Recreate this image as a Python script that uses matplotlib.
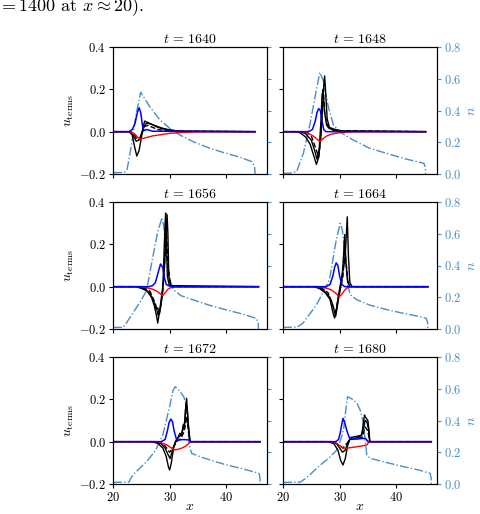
import matplotlib
matplotlib.use("Agg")
import matplotlib.pyplot as plt

plt.rcParams["font.family"] = "serif"
plt.rcParams["font.serif"] = ["cmr10", "DejaVu Serif"]
plt.rcParams["mathtext.fontset"] = "cm"
plt.rcParams["axes.formatter.use_mathtext"] = True

N_COLOR = "#4a8dc8"

times = [1640, 1648, 1656, 1664, 1672, 1680]

# ---- t = 1640 ----
xn_1640 = [20, 22.0, 22.5, 23.2, 24.1, 24.9, 25.5, 26.5, 28.3, 30.0, 31.8, 34.2, 37.1, 40.0, 42.5, 44.5, 45.0, 45.1]
n_1640 = [0.008, 0.01, 0.03, 0.17, 0.38, 0.515, 0.48, 0.424, 0.34, 0.288, 0.246, 0.203, 0.162, 0.13, 0.105, 0.078, 0.05, 0.0]
xb_1640 = [20, 22.8, 23.4, 23.9, 24.3, 24.6, 24.9, 25.2, 25.5, 26.0, 27.0, 45.1]
blue_1640 = [0, 0.0, 0.01, 0.04, 0.09, 0.113, 0.09, 0.03, 0.005, 0.01, 0.002, 0]
xr_1640 = [20, 23.0, 23.8, 24.4, 24.8, 25.3, 26.0, 27.0, 28.5, 30.0, 32.0, 35.0, 45.1]
red_1640 = [0, 0, -0.01, -0.028, -0.036, -0.032, -0.027, -0.02, -0.014, -0.008, -0.004, -0.001, 0]
xa_1640 = [20, 22.8, 23.4, 23.8, 24.2, 24.6, 25.0, 25.3, 25.6, 26.0, 26.8, 27.8, 29.0, 31.0, 33.0, 45.1]
ka_1640 = [0, 0, -0.015, -0.07, -0.115, -0.09, -0.03, 0.02, 0.05, 0.045, 0.035, 0.022, 0.012, 0.004, 0.001, 0]
xk_1640 = [20, 23.0, 23.6, 24.1, 24.6, 25.0, 25.4, 25.9, 26.5, 27.5, 28.5, 30.0, 32.0, 45.1]
kb_1640 = [0, 0, -0.02, -0.045, -0.04, -0.01, 0.02, 0.04, 0.038, 0.028, 0.018, 0.008, 0.002, 0]
xd_1640 = [20, 23.2, 23.8, 24.3, 24.8, 25.2, 25.6, 26.2, 27.0, 28.0, 30.0, 45.1]
kd_1640 = [0, 0, -0.015, -0.04, -0.035, -0.005, 0.025, 0.03, 0.02, 0.01, 0.003, 0]

# ---- t = 1648 ----
xn_1648 = [20, 21.2, 22.4, 23.6, 24.8, 25.9, 26.5, 27.1, 28.0, 28.9, 30.0, 32.4, 35.3, 38.3, 41.2, 44.9, 45.15, 45.2]
n_1648 = [0.005, 0.005, 0.015, 0.13, 0.32, 0.53, 0.64, 0.59, 0.424, 0.31, 0.266, 0.214, 0.162, 0.13, 0.099, 0.067, 0.04, 0.0]
xb_1648 = [20, 24.5, 25.2, 25.7, 26.0, 26.3, 26.6, 26.9, 27.2, 27.6, 45.2]
blue_1648 = [0, 0, 0.01, 0.05, 0.09, 0.109, 0.1, 0.05, 0.01, 0.0, 0]
xr_1648 = [20, 23.5, 24.5, 25.3, 26.0, 26.5, 27.0, 27.6, 28.5, 30.0, 32.0, 45.2]
red_1648 = [0, 0, -0.008, -0.02, -0.035, -0.047, -0.035, -0.022, -0.012, -0.005, -0.001, 0]
xa_1648 = [20, 22.0, 23.0, 24.0, 24.8, 25.5, 25.9, 26.3, 26.7, 27.0, 27.2, 27.35, 27.5, 27.8, 28.2, 29.0, 30.0, 31.0, 45.2]
ka_1648 = [0, 0, -0.005, -0.025, -0.06, -0.12, -0.155, -0.12, -0.02, 0.12, 0.22, 0.263, 0.2, 0.06, 0.02, 0.012, 0.006, 0.002, 0]
xk_1648 = [20, 23.0, 24.0, 25.0, 25.6, 26.0, 26.4, 26.7, 26.9, 27.1, 27.3, 27.7, 28.2, 29.0, 30.0, 45.2]
kb_1648 = [0, 0, -0.01, -0.04, -0.09, -0.13, -0.08, 0.05, 0.176, 0.19, 0.1, 0.03, 0.015, 0.008, 0.003, 0]
xd_1648 = [20, 24.0, 25.0, 25.8, 26.3, 26.6, 26.9, 27.1, 27.4, 28.0, 29.0, 45.2]
kd_1648 = [0, 0, -0.02, -0.08, -0.12, -0.05, 0.1, 0.2, 0.08, 0.02, 0.005, 0]

# ---- t = 1656 ----
xn_1656 = [20, 21.8, 22.4, 23.5, 24.8, 25.9, 27.1, 27.9, 28.65, 29.0, 29.4, 30.0, 30.6, 32.0, 34.2, 37.0, 40.05, 43.0, 45.3, 45.65, 45.7]
n_1656 = [0.01, 0.01, 0.04, 0.1, 0.17, 0.24, 0.466, 0.613, 0.70, 0.64, 0.466, 0.32, 0.25, 0.21, 0.183, 0.15, 0.12, 0.093, 0.067, 0.04, 0.0]
xb_1656 = [20, 26.3, 27.0, 27.5, 28.0, 28.4, 28.8, 29.1, 29.4, 29.8, 30.3, 45.7]
blue_1656 = [0, 0, 0.005, 0.02, 0.07, 0.107, 0.09, 0.04, 0.01, 0.005, 0.0, 0]
xr_1656 = [20, 25.0, 26.0, 27.0, 27.8, 28.4, 28.8, 29.2, 29.7, 30.3, 31.0, 45.7]
red_1656 = [0, 0, -0.005, -0.012, -0.022, -0.035, -0.041, -0.03, -0.012, -0.004, 0.0, 0]
xa_1656 = [20, 24.0, 25.0, 26.0, 26.8, 27.3, 27.7, 27.9, 28.2, 28.5, 28.8, 29.0, 29.2, 29.3, 29.45, 29.6, 29.9, 30.3, 45.7]
ka_1656 = [0, 0, -0.008, -0.02, -0.05, -0.09, -0.14, -0.172, -0.12, -0.06, 0.0, 0.15, 0.3, 0.348, 0.2, 0.05, 0.01, 0.0, 0]
xk_1656 = [20, 24.5, 25.5, 26.5, 27.2, 27.6, 27.9, 28.2, 28.6, 29.0, 29.3, 29.55, 29.7, 29.85, 30.2, 45.7]
kb_1656 = [0, 0, -0.01, -0.03, -0.07, -0.11, -0.10, -0.13, -0.06, 0.05, 0.2, 0.34, 0.25, 0.05, 0.005, 0]
xd_1656 = [20, 25.0, 26.5, 27.5, 28.0, 28.4, 28.8, 29.1, 29.4, 29.7, 30.2, 45.7]
kd_1656 = [0, 0, -0.02, -0.08, -0.14, -0.1, -0.02, 0.1, 0.3, 0.1, 0.0, 0]

# ---- t = 1664 ----
xn_1664 = [20, 22.5, 23.5, 25.9, 28.2, 29.4, 30.1, 30.5, 30.9, 31.5, 31.9, 33.0, 35.3, 38.0, 41.2, 43.5, 45.3, 45.55, 45.6]
n_1664 = [0.01, 0.012, 0.036, 0.151, 0.309, 0.56, 0.666, 0.62, 0.477, 0.266, 0.215, 0.185, 0.151, 0.125, 0.099, 0.083, 0.067, 0.04, 0.0]
xb_1664 = [20, 27.6, 28.3, 28.8, 29.1, 29.4, 29.7, 30.0, 30.4, 30.9, 45.6]
blue_1664 = [0, 0, 0.01, 0.05, 0.09, 0.112, 0.1, 0.05, 0.01, 0.0, 0]
xr_1664 = [20, 26.5, 27.5, 28.5, 29.3, 29.7, 30.0, 30.4, 30.8, 31.3, 32.0, 45.6]
red_1664 = [0, 0, -0.005, -0.015, -0.03, -0.042, -0.046, -0.035, -0.02, -0.006, 0, 0]
xa_1664 = [20, 25.5, 26.5, 27.5, 28.3, 28.8, 29.1, 29.4, 29.8, 30.2, 30.6, 30.9, 31.1, 31.35, 31.55, 31.8, 32.2, 45.6]
ka_1664 = [0, 0, -0.01, -0.03, -0.06, -0.12, -0.148, -0.12, -0.04, 0.02, 0.08, 0.12, 0.2, 0.33, 0.15, 0.02, 0.0, 0]
xk_1664 = [20, 26.0, 27.0, 28.0, 28.6, 29.0, 29.3, 29.6, 30.0, 30.4, 30.7, 30.9, 31.1, 31.4, 31.8, 45.6]
kb_1664 = [0, 0, -0.015, -0.04, -0.07, -0.11, -0.14, -0.09, -0.03, 0.03, 0.15, 0.246, 0.12, 0.03, 0.0, 0]
xd_1664 = [20, 26.5, 28.0, 28.8, 29.3, 29.7, 30.2, 30.6, 30.9, 31.2, 31.5, 45.6]
kd_1664 = [0, 0, -0.03, -0.09, -0.12, -0.06, 0.0, 0.05, 0.18, 0.1, 0.0, 0]

# ---- t = 1672 ----
xn_1672 = [20, 22.8, 23.5, 25.9, 27.5, 28.8, 30.0, 30.6, 31.0, 31.8, 32.5, 32.9, 33.2, 33.5, 33.9, 35.5, 38.0, 40.05, 43.0, 45.8, 45.95, 46.0]
n_1672 = [0.01, 0.012, 0.057, 0.14, 0.21, 0.31, 0.487, 0.59, 0.613, 0.585, 0.55, 0.5, 0.36, 0.24, 0.193, 0.17, 0.142, 0.12, 0.095, 0.067, 0.04, 0.0]
xb_1672 = [20, 28.5, 29.2, 29.6, 29.9, 30.2, 30.5, 30.8, 31.2, 31.6, 32.5, 33.4, 33.7, 46.0]
blue_1672 = [0, 0, 0.01, 0.05, 0.09, 0.107, 0.095, 0.05, 0.012, 0.008, 0.01, 0.008, 0.0, 0]
xr_1672 = [20, 27.5, 28.5, 29.5, 30.3, 30.9, 31.5, 32.2, 32.8, 33.3, 33.6, 46.0]
red_1672 = [0, 0, -0.005, -0.015, -0.03, -0.039, -0.036, -0.03, -0.022, -0.01, 0.0, 0]
xa_1672 = [20, 27.0, 28.0, 28.8, 29.4, 29.8, 30.0, 30.3, 30.7, 31.1, 31.5, 31.8, 32.1, 32.4, 32.6, 32.8, 33.0, 33.2, 33.4, 33.6, 46.0]
ka_1672 = [0, 0, -0.01, -0.03, -0.07, -0.12, -0.134, -0.1, -0.03, 0.0, 0.02, 0.04, 0.03, 0.08, 0.06, 0.15, 0.205, 0.12, 0.05, 0.0, 0]
xk_1672 = [20, 27.5, 28.5, 29.2, 29.7, 30.1, 30.5, 31.0, 31.5, 32.0, 32.4, 32.7, 32.9, 33.1, 33.3, 33.6, 46.0]
kb_1672 = [0, 0, -0.01, -0.03, -0.06, -0.08, -0.04, 0.0, 0.02, 0.03, 0.06, 0.1, 0.18, 0.16, 0.08, 0.0, 0]
xd_1672 = [20, 28.0, 29.2, 30.0, 30.6, 31.2, 32.0, 32.6, 33.0, 33.3, 33.6, 46.0]
kd_1672 = [0, 0, -0.02, -0.05, -0.03, 0.0, 0.015, 0.05, 0.12, 0.06, 0.0, 0]

# ---- t = 1680 ----
xn_1680 = [20, 23.1, 24.5, 26.6, 28.0, 29.5, 30.1, 30.7, 31.1, 31.4, 32.2, 33.06, 33.7, 34.2, 34.5, 34.8, 35.4, 38.0, 41.3, 44.0, 46.0, 46.15, 46.2]
n_1680 = [0.01, 0.012, 0.05, 0.12, 0.16, 0.214, 0.27, 0.34, 0.47, 0.55, 0.535, 0.51, 0.46, 0.382, 0.28, 0.183, 0.162, 0.138, 0.109, 0.088, 0.067, 0.04, 0.0]
xb_1680 = [20, 29.3, 29.8, 30.1, 30.4, 30.6, 30.9, 31.3, 31.7, 32.0, 33.0, 34.0, 34.6, 35.0, 46.2]
blue_1680 = [0, 0, 0.01, 0.04, 0.085, 0.11, 0.09, 0.05, 0.02, 0.015, 0.012, 0.015, 0.015, 0.0, 0]
xr_1680 = [20, 28.5, 29.5, 30.2, 30.7, 31.3, 32.0, 33.0, 34.0, 34.8, 35.2, 46.2]
red_1680 = [0, 0, -0.008, -0.022, -0.031, -0.03, -0.028, -0.024, -0.02, -0.016, 0.0, 0]
xa_1680 = [20, 28.0, 29.0, 29.7, 30.2, 30.6, 31.0, 31.4, 31.8, 32.5, 33.3, 33.9, 34.2, 34.4, 34.7, 35.0, 35.2, 35.35, 46.2]
ka_1680 = [0, 0, -0.01, -0.04, -0.09, -0.11, -0.08, -0.02, 0.01, 0.015, 0.02, 0.03, 0.09, 0.126, 0.11, 0.1, 0.05, 0.0, 0]
xk_1680 = [20, 28.5, 29.5, 30.0, 30.5, 31.0, 31.5, 32.0, 33.0, 33.8, 34.2, 34.5, 34.8, 35.1, 35.3, 46.2]
kb_1680 = [0, 0, -0.01, -0.03, -0.05, -0.04, 0.0, 0.02, 0.025, 0.03, 0.06, 0.1, 0.095, 0.06, 0.0, 0]
xd_1680 = [20, 29.0, 30.0, 30.6, 31.2, 32.0, 33.0, 34.0, 34.5, 35.0, 35.3, 46.2]
kd_1680 = [0, 0, -0.02, -0.03, -0.01, 0.01, 0.015, 0.02, 0.07, 0.05, 0.0, 0]

panels = {
    1640: (xn_1640, n_1640, xb_1640, blue_1640, xr_1640, red_1640, xa_1640, ka_1640, xk_1640, kb_1640, xd_1640, kd_1640),
    1648: (xn_1648, n_1648, xb_1648, blue_1648, xr_1648, red_1648, xa_1648, ka_1648, xk_1648, kb_1648, xd_1648, kd_1648),
    1656: (xn_1656, n_1656, xb_1656, blue_1656, xr_1656, red_1656, xa_1656, ka_1656, xk_1656, kb_1656, xd_1656, kd_1656),
    1664: (xn_1664, n_1664, xb_1664, blue_1664, xr_1664, red_1664, xa_1664, ka_1664, xk_1664, kb_1664, xd_1664, kd_1664),
    1672: (xn_1672, n_1672, xb_1672, blue_1672, xr_1672, red_1672, xa_1672, ka_1672, xk_1672, kb_1672, xd_1672, kd_1672),
    1680: (xn_1680, n_1680, xb_1680, blue_1680, xr_1680, red_1680, xa_1680, ka_1680, xk_1680, kb_1680, xd_1680, kd_1680),
}

W, H = 480, 514
fig = plt.figure(figsize=(W / 100, H / 100), dpi=100)

# trailing line of the surrounding text, cut at the top edge as in the page
fig.text(-0.004, 1 - 11 / H, r"$= 1400$ at $x \approx 20$).", fontsize=13,
         ha="left", va="baseline")

lefts = [113 / W, 283 / W]
width = 154 / W
bottoms = [1 - 174 / H, 1 - 329 / H, 1 - 484 / H]
height = 127 / H

for i, t in enumerate(times):
    row, col = divmod(i, 2)
    xn, n, xb, blue, xr, red, xa, ka, xk, kb, xd, kd = panels[t]

    ax = fig.add_axes([lefts[col], bottoms[row], width, height])
    ax2 = ax.twinx()
    ax.set_zorder(ax2.get_zorder() + 1)
    ax.patch.set_visible(False)

    ax2.plot(xn, n, color=N_COLOR, lw=1.0, ls="-.")
    ax2.set_ylim(0, 0.8)
    ax2.set_yticks([0.0, 0.2, 0.4, 0.6, 0.8])
    ax2.tick_params(axis="y", colors=N_COLOR, labelsize=9, length=3, pad=2)

    ax.plot(xk, kb, color="k", lw=1.0)
    ax.plot(xa, ka, color="k", lw=1.0)
    ax.plot(xd, kd, color="k", lw=1.0, ls="--")
    ax.plot(xr, red, color="red", lw=1.0)
    ax.plot(xb, blue, color="blue", lw=1.1)

    ax.set_xlim(20, 47.2)
    ax.set_ylim(-0.2, 0.4)
    ax.set_yticks([-0.2, 0.0, 0.2, 0.4])
    ax.set_xticks([20, 30, 40])
    ax.tick_params(labelsize=9, length=3, pad=2)
    ax.set_title(r"$t\,=\,%d$" % t, fontsize=10, pad=3)

    if col == 0:
        ax.set_ylabel(r"$u_{\rm terms}$", fontsize=10, labelpad=2)
        ax2.tick_params(axis="y", labelright=False)
    else:
        ax.tick_params(axis="y", labelleft=False)
        ax2.set_ylabel(r"$n$", color=N_COLOR, fontsize=10, labelpad=3)
    if row < 2:
        ax.tick_params(axis="x", labelbottom=False)
    else:
        ax.set_xlabel(r"$x$", fontsize=10, labelpad=-2)

fig.savefig("out.png", dpi=100)
